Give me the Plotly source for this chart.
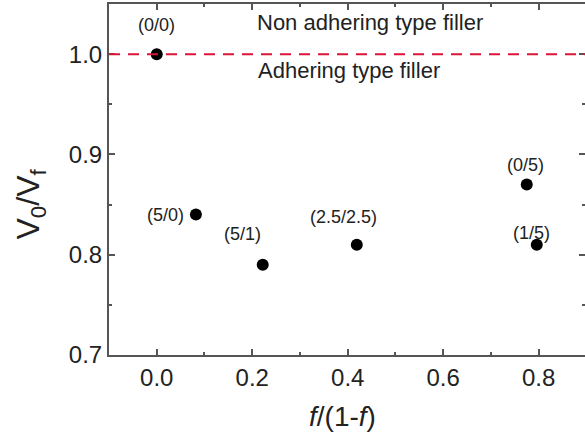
import plotly.graph_objects as go

# data
x_vals = [0.0, 0.082, 0.222, 0.419, 0.775, 0.796]
y_vals = [1.0, 0.84, 0.79, 0.81, 0.87, 0.81]
labels = ["(0/0)", "(5/0)", "(5/1)", "(2.5/2.5)", "(0/5)", "(1/5)"]
ref_value = [1.0]
x_ticks = [0.0, 0.2, 0.4, 0.6, 0.8]
y_ticks = [0.7, 0.8, 0.9, 1.0]
region_texts = ["Non adhering type filler", "Adhering type filler"]

# styles (pixel offsets for point labels)
label_dx = [0, -30, -20, -13, -1, -5]
label_dy = [29, 0, 31, 28, 20, 12]

FONT = "Arial, Liberation Sans, sans-serif"
TXT = "#222222"
AX = "#555555"

fig = go.Figure()
fig.add_trace(go.Scatter(
    x=x_vals, y=y_vals, mode="markers",
    marker=dict(color="black", size=12),
    showlegend=False, hoverinfo="skip"))

# invisible trace to drive the right-hand y axis ticks
fig.add_trace(go.Scatter(x=[x_vals[0]], y=[y_vals[0]], yaxis="y2",
                         mode="markers", marker=dict(opacity=0),
                         showlegend=False, hoverinfo="skip"))

fig.add_shape(type="line", xref="paper", x0=0, x1=1, yref="y",
              y0=ref_value[0], y1=ref_value[0],
              line=dict(color="#dc1438", width=2, dash="11px,8px"))

for xv, yv, lab, dx, dy in zip(x_vals, y_vals, labels, label_dx, label_dy):
    fig.add_annotation(x=xv, y=yv, text=lab, showarrow=False,
                       xshift=dx, yshift=dy,
                       font=dict(family=FONT, size=18, color=TXT))

fig.add_annotation(x=0.206, y=1.0, xref="x", yref="y", text=region_texts[0],
                   showarrow=False, xanchor="left", yanchor="middle", yshift=32,
                   font=dict(family=FONT, size=22, color=TXT))
fig.add_annotation(x=0.208, y=1.0, xref="x", yref="y", text=region_texts[1],
                   showarrow=False, xanchor="left", yanchor="middle", yshift=-16,
                   font=dict(family=FONT, size=22, color=TXT))

# axis titles
fig.add_annotation(xref="paper", yref="paper", x=-0.165, y=0.43,
                   xanchor="center", yanchor="middle",
                   text="V<sub>0</sub>/V<sub>f</sub>", textangle=-90,
                   showarrow=False, font=dict(family=FONT, size=32, color=TXT))
fig.add_annotation(xref="paper", yref="paper", x=0.49, y=-0.175,
                   xanchor="center", yanchor="middle",
                   text="<i>f</i>/(1-<i>f</i>)",
                   showarrow=False, font=dict(family=FONT, size=28, color=TXT))

fig.update_layout(
    width=585, height=435,
    margin=dict(l=109, r=0, t=4, b=80),
    paper_bgcolor="white", plot_bgcolor="white",
    xaxis=dict(range=[-0.1, 0.897], tickvals=x_ticks,
               ticktext=[f"{v:.1f}" for v in x_ticks],
               ticks="inside", ticklen=6, tickwidth=1.5, tickcolor=AX,
               minor=dict(ticks="inside", ticklen=3, tickcolor=AX, dtick=0.1,
                          tick0=0.1),
               showline=True, linecolor=AX, linewidth=2, mirror="ticks",
               showgrid=False, zeroline=False,
               tickfont=dict(family=FONT, size=24, color=TXT)),
    yaxis=dict(range=[0.7, 1.05], tickvals=y_ticks,
               ticktext=[f"{v:.1f}" for v in y_ticks],
               ticks="inside", ticklen=6, tickwidth=1.5, tickcolor=AX,
               minor=dict(ticks="inside", ticklen=3, tickcolor=AX, dtick=0.05),
               showline=True, linecolor=AX, linewidth=2,
               showgrid=False, zeroline=False,
               tickfont=dict(family=FONT, size=24, color=TXT)),
    yaxis2=dict(range=[0.7, 1.05], overlaying="y", side="right",
                tickvals=y_ticks, showticklabels=False,
                ticks="inside", ticklen=6, tickwidth=1.5, tickcolor=AX,
                minor=dict(ticks="inside", ticklen=3, tickcolor=AX, dtick=0.05),
                showline=False, showgrid=False, zeroline=False),
)

fig.write_html("out.html", config={"displayModeBar": False},
               post_script="document.body.style.margin='0';document.body.style.overflow='hidden';")
